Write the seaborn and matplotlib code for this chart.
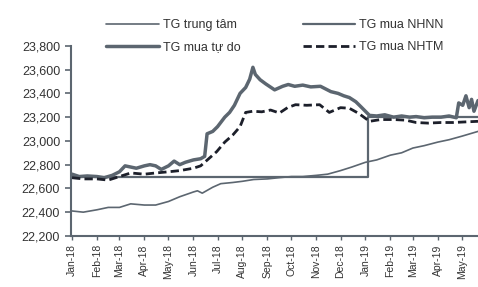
import pandas as pd
import matplotlib
matplotlib.use("Agg")
import matplotlib.pyplot as plt
import matplotlib.dates as mdates
from matplotlib.ticker import FuncFormatter
import seaborn as sns

# TG trung tâm (central rate)
central_dates = ["2018-01-01", "2018-01-15", "2018-02-01", "2018-02-15", "2018-03-01", "2018-03-15",
                 "2018-04-01", "2018-04-15", "2018-05-01", "2018-05-15", "2018-06-01", "2018-06-06",
                 "2018-06-12", "2018-06-25", "2018-07-05", "2018-07-20", "2018-08-01", "2018-08-15",
                 "2018-09-01", "2018-09-15", "2018-10-01", "2018-10-15", "2018-11-01", "2018-11-15",
                 "2018-12-01", "2018-12-15", "2019-01-01", "2019-01-15", "2019-02-01", "2019-02-15",
                 "2019-03-01", "2019-03-15", "2019-04-01", "2019-04-15", "2019-05-01", "2019-05-21"]
central_vals = [22410, 22400, 22420, 22440, 22440, 22470,
                22460, 22460, 22490, 22530, 22570, 22580,
                22560, 22610, 22640, 22650, 22660, 22675,
                22680, 22690, 22700, 22700, 22710, 22720,
                22750, 22780, 22820, 22840, 22880, 22900,
                22940, 22960, 22990, 23010, 23040, 23080]

# TG mua NHNN (SBV buying rate)
sbv_dates = ["2018-01-01", "2019-01-04", "2019-05-21"]
sbv_vals = [22700, 23200, 23200]

# TG mua tự do (free market buying rate)
free_dates = ["2018-01-01", "2018-01-10", "2018-01-20", "2018-02-01", "2018-02-10", "2018-02-20",
              "2018-03-01", "2018-03-08", "2018-03-15", "2018-03-22", "2018-04-01", "2018-04-08",
              "2018-04-15", "2018-04-22", "2018-05-01", "2018-05-08", "2018-05-15", "2018-05-22",
              "2018-06-01", "2018-06-10", "2018-06-15", "2018-06-18", "2018-06-25", "2018-07-01",
              "2018-07-10", "2018-07-16", "2018-07-22", "2018-07-29", "2018-08-05", "2018-08-10",
              "2018-08-14", "2018-08-17", "2018-08-23", "2018-08-30", "2018-09-10", "2018-09-20",
              "2018-09-27", "2018-10-05", "2018-10-15", "2018-10-25", "2018-11-06", "2018-11-19",
              "2018-11-28", "2018-12-05", "2018-12-12", "2018-12-20", "2018-12-26", "2019-01-06",
              "2019-01-15", "2019-01-25", "2019-02-05", "2019-02-15", "2019-02-25", "2019-03-05",
              "2019-03-15", "2019-03-25", "2019-04-05", "2019-04-15", "2019-04-24", "2019-04-27",
              "2019-05-02", "2019-05-06", "2019-05-10", "2019-05-13", "2019-05-16", "2019-05-21"]
free_vals = [22720, 22700, 22705, 22700, 22690, 22710,
             22740, 22790, 22780, 22770, 22790, 22800,
             22790, 22760, 22790, 22830, 22800, 22820,
             22840, 22850, 22870, 23060, 23080, 23120,
             23200, 23240, 23300, 23400, 23450, 23520,
             23620, 23560, 23515, 23480, 23430, 23460,
             23475, 23460, 23470, 23455, 23460, 23415,
             23400, 23380, 23365, 23330, 23290, 23215,
             23210, 23220, 23200, 23210, 23200, 23205,
             23195, 23200, 23200, 23210, 23195, 23320,
             23300, 23380, 23280, 23350, 23250, 23340]

# TG mua NHTM (commercial bank buying rate)
bank_dates = ["2018-01-01", "2018-01-15", "2018-02-01", "2018-02-15", "2018-03-01", "2018-03-15",
              "2018-04-01", "2018-04-15", "2018-05-01", "2018-05-15", "2018-06-01", "2018-06-10",
              "2018-06-20", "2018-06-30", "2018-07-10", "2018-07-20", "2018-07-29", "2018-08-05",
              "2018-08-14", "2018-08-25", "2018-09-05", "2018-09-16", "2018-09-26", "2018-10-06",
              "2018-10-20", "2018-11-05", "2018-11-17", "2018-12-01", "2018-12-12", "2018-12-24",
              "2019-01-06", "2019-01-20", "2019-02-05", "2019-02-20", "2019-03-05", "2019-03-20",
              "2019-04-05", "2019-04-20", "2019-05-05", "2019-05-21"]
bank_vals = [22690, 22680, 22680, 22670, 22700, 22730,
             22720, 22730, 22740, 22750, 22770, 22790,
             22850, 22910, 22990, 23050, 23120, 23240,
             23250, 23245, 23260, 23235, 23280, 23305,
             23300, 23305, 23240, 23280, 23275, 23230,
             23165, 23180, 23180, 23175, 23155, 23150,
             23155, 23155, 23160, 23165]

GRAY = "#5c6670"
DARK = "#1c1f2a"

sns.set_style("white")
plt.rcParams["font.family"] = ["Liberation Sans", "DejaVu Sans"]

fig = plt.figure(figsize=(4.78, 2.87), dpi=100)
ax = fig.add_axes([0.149, 0.178, 0.851, 0.662])

central = pd.DataFrame({"date": pd.to_datetime(central_dates), "val": central_vals})
sbv = pd.DataFrame({"date": pd.to_datetime(sbv_dates), "val": sbv_vals})
free = pd.DataFrame({"date": pd.to_datetime(free_dates), "val": free_vals})
bank = pd.DataFrame({"date": pd.to_datetime(bank_dates), "val": bank_vals})

sns.lineplot(data=central, x="date", y="val", ax=ax, color=GRAY, lw=1.2, label="TG trung tâm")
sns.lineplot(data=free, x="date", y="val", ax=ax, color=GRAY, lw=2.5, label="TG mua tự do")
sns.lineplot(data=sbv, x="date", y="val", ax=ax, color=GRAY, lw=1.6, drawstyle="steps-post",
             label="TG mua NHNN")
sns.lineplot(data=bank, x="date", y="val", ax=ax, color=DARK, lw=2.0, label="TG mua NHTM",
             dashes=False, linestyle=(0, (3, 1.5)))

ax.set_ylim(22200, 23800)
ax.set_yticks(range(22200, 23801, 200))
ax.yaxis.set_major_formatter(FuncFormatter(lambda v, p: f"{int(v):,}"))
ax.set_xlim(pd.Timestamp("2017-12-31"), pd.Timestamp("2019-05-21"))
ax.xaxis.set_major_locator(mdates.MonthLocator())
ax.xaxis.set_major_formatter(mdates.DateFormatter("%b-%y"))
ax.set_xlabel("")
ax.set_ylabel("")

for s in ["top", "right"]:
    ax.spines[s].set_visible(False)
for s in ["left", "bottom"]:
    ax.spines[s].set_color(GRAY)
    ax.spines[s].set_linewidth(1.5)

ax.tick_params(axis="y", labelsize=9, colors="#333333", length=4, width=1.2, color=GRAY, pad=4)
ax.tick_params(axis="x", labelsize=7.5, colors="#333333", length=3, width=1.0, color=GRAY,
               rotation=90, pad=3)
ax.tick_params(left=True, bottom=True)

handles, labels = ax.get_legend_handles_labels()
ax.get_legend().remove()
fig.legend(handles, labels, ncol=2, loc="center", bbox_to_anchor=(0.575, 0.874), frameon=False,
           fontsize=9, handlelength=4.2, handletextpad=0.3, columnspacing=5.0, labelspacing=0.8,
           labelcolor="#333333")

fig.savefig("out.png", dpi=100)
